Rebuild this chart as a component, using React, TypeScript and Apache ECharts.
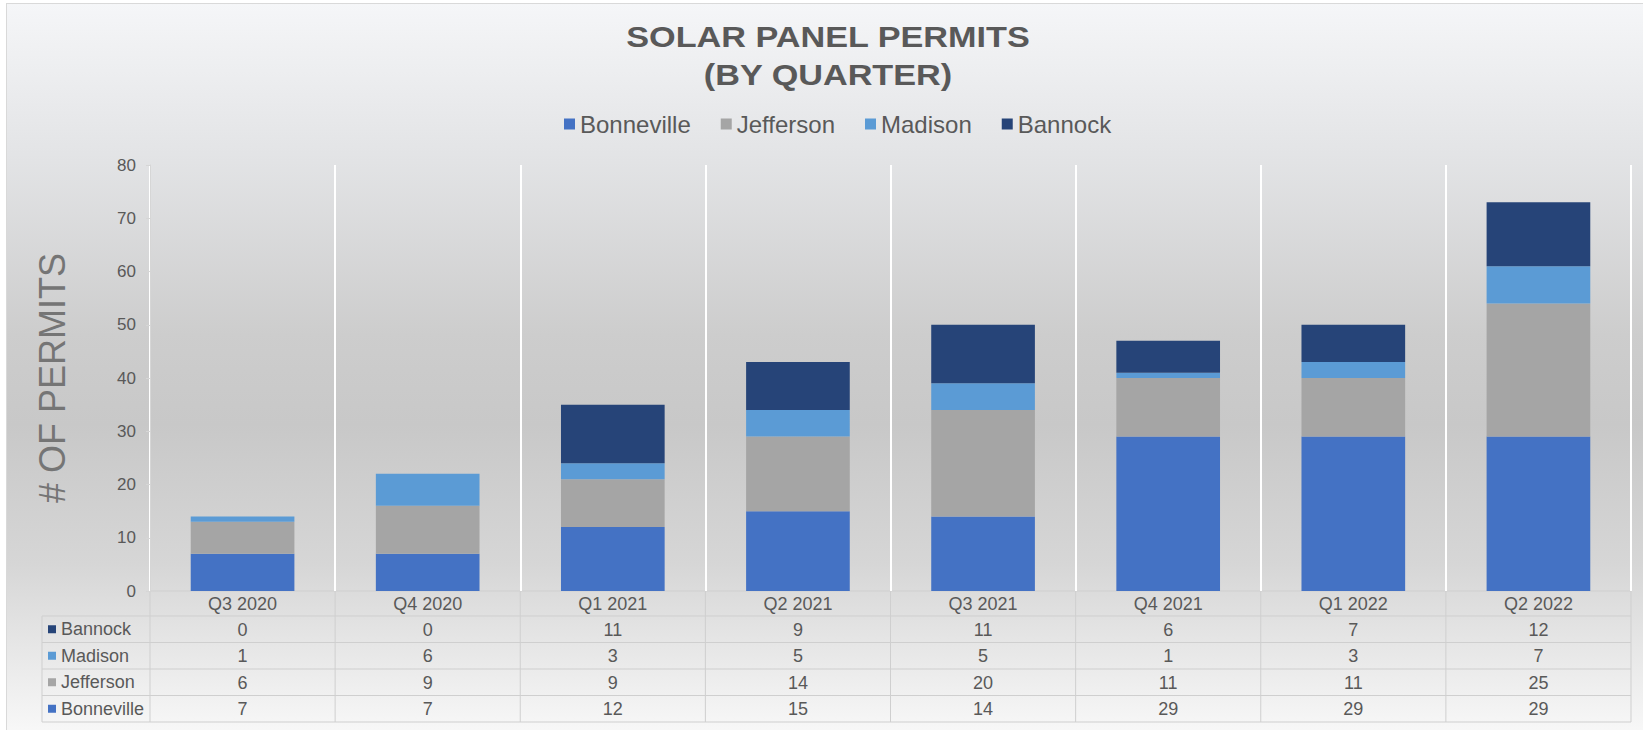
import React, { useEffect, useRef } from "react";
import * as echarts from "echarts";

const quarters = ["Q3 2020", "Q4 2020", "Q1 2021", "Q2 2021", "Q3 2021", "Q4 2021", "Q1 2022", "Q2 2022"];
const bonneville = [7, 7, 12, 15, 14, 29, 29, 29];
const jefferson = [6, 9, 9, 14, 20, 11, 11, 25];
const madison = [1, 6, 3, 5, 5, 1, 3, 7];
const bannock = [0, 0, 11, 9, 11, 6, 7, 12];
const seriesNames = ["Bonneville", "Jefferson", "Madison", "Bannock"];
const seriesColors = ["#4472C4", "#A5A5A5", "#5B9BD5", "#264478"];
const yMin = 0;
const yMax = 80;
const yInterval = 10;

const W = 1643;
const H = 730;
const GRID_LEFT = 150;
const GRID_RIGHT_X = 1631;
const GRID_TOP = 165;
const GRID_BOTTOM_Y = 591;
const HEADER_BOTTOM = 616;
const ROW_H = 26.5;
const TABLE_LEFT = 42;
const TEXT = "#595959";
const LINE = "#cfcfcf";
const FONT = "'Liberation Sans', Arial, sans-serif";
const TABLE_FONT = 18;

export default function App() {
  const ref = useRef<HTMLDivElement>(null);

  useEffect(() => {
    if (!ref.current) return;
    const chart = echarts.init(ref.current, undefined, { renderer: "svg" });

    const seriesData = [bonneville, jefferson, madison, bannock];
    // table rows are listed top-to-bottom in reverse stacking order
    const tableOrder = [3, 2, 1, 0];
    const headerCenter = (GRID_BOTTOM_Y + HEADER_BOTTOM) / 2;
    const labelMargin = 4;

    const xAxes: any[] = [
      {
        type: "category",
        data: quarters,
        gridIndex: 0,
        position: "bottom",
        boundaryGap: true,
        axisLine: { show: false },
        axisTick: { show: false },
        axisLabel: { color: TEXT, fontSize: TABLE_FONT, fontFamily: FONT, margin: labelMargin },
        splitLine: { show: true, lineStyle: { color: "#ffffff", width: 2 } },
      },
    ];
    tableOrder.forEach((si, r) => {
      const rowCenter = HEADER_BOTTOM + ROW_H * (r + 0.5);
      xAxes.push({
        type: "category",
        data: seriesData[si].map((v) => String(v)),
        gridIndex: 0,
        position: "bottom",
        offset: rowCenter - headerCenter,
        boundaryGap: true,
        axisLine: { show: false },
        axisTick: { show: false },
        splitLine: { show: false },
        axisLabel: { color: TEXT, fontSize: TABLE_FONT, fontFamily: FONT, margin: labelMargin, interval: 0 },
      });
    });

    const graphics: any[] = [];
    // title
    graphics.push({
      type: "text",
      x: 828,
      y: 37,
      scaleX: 1.18,
      style: {
        text: "SOLAR PANEL PERMITS",
        fill: TEXT,
        font: `bold 29px ${FONT}`,
        textAlign: "center",
        textVerticalAlign: "middle",
      },
    });
    graphics.push({
      type: "text",
      x: 828,
      y: 75,
      scaleX: 1.18,
      style: {
        text: "(BY QUARTER)",
        fill: TEXT,
        font: `bold 29px ${FONT}`,
        textAlign: "center",
        textVerticalAlign: "middle",
      },
    });

    // data table lines
    const catW = (GRID_RIGHT_X - GRID_LEFT) / quarters.length;
    const tableBottom = HEADER_BOTTOM + ROW_H * tableOrder.length;
    for (let k = 0; k <= quarters.length; k++) {
      const x = GRID_LEFT + k * catW;
      graphics.push({
        type: "line",
        shape: { x1: x, y1: GRID_BOTTOM_Y, x2: x, y2: tableBottom },
        style: { stroke: LINE, lineWidth: 1 },
        silent: true,
      });
    }
    graphics.push({
      type: "line",
      shape: { x1: TABLE_LEFT, y1: HEADER_BOTTOM, x2: TABLE_LEFT, y2: tableBottom },
      style: { stroke: LINE, lineWidth: 1 },
      silent: true,
    });
    graphics.push({
      type: "line",
      shape: { x1: GRID_LEFT, y1: GRID_BOTTOM_Y, x2: GRID_RIGHT_X, y2: GRID_BOTTOM_Y },
      style: { stroke: LINE, lineWidth: 1 },
      silent: true,
    });
    for (let r = 0; r <= tableOrder.length; r++) {
      const y = HEADER_BOTTOM + r * ROW_H;
      graphics.push({
        type: "line",
        shape: { x1: TABLE_LEFT, y1: y, x2: GRID_RIGHT_X, y2: y },
        style: { stroke: LINE, lineWidth: 1 },
        silent: true,
      });
    }
    // row headers with legend keys
    tableOrder.forEach((si, r) => {
      const cy = HEADER_BOTTOM + ROW_H * (r + 0.5);
      graphics.push({
        type: "rect",
        shape: { x: 48, y: cy - 4, width: 8, height: 8 },
        style: { fill: seriesColors[si] },
        silent: true,
      });
      graphics.push({
        type: "text",
        x: 61,
        y: cy,
        style: {
          text: seriesNames[si],
          fill: TEXT,
          font: `${TABLE_FONT}px ${FONT}`,
          textAlign: "left",
          textVerticalAlign: "middle",
        },
        silent: true,
      });
    });

    chart.setOption({
      animation: false,
      backgroundColor: "transparent",
      textStyle: { fontFamily: FONT },
      legend: {
        data: seriesNames,
        left: 559,
        top: 107,
        icon: "rect",
        itemWidth: 11,
        itemHeight: 11,
        itemGap: 30,
        textStyle: { color: TEXT, fontSize: 24, fontFamily: FONT },
      },
      grid: {
        left: GRID_LEFT,
        right: W - GRID_RIGHT_X,
        top: GRID_TOP,
        bottom: H - GRID_BOTTOM_Y,
      },
      xAxis: xAxes,
      yAxis: {
        type: "value",
        min: yMin,
        max: yMax,
        interval: yInterval,
        name: "# OF PERMITS",
        nameLocation: "middle",
        nameGap: 80,
        nameRotate: 90,
        nameTextStyle: { color: "#757575", fontSize: 36, fontFamily: FONT },
        axisLine: { show: true, lineStyle: { color: "#d6d6d6", width: 1 } },
        axisTick: { show: true, length: 4, lineStyle: { color: "#d6d6d6" } },
        axisLabel: { color: TEXT, fontSize: 17, fontFamily: FONT, margin: 14 },
        splitLine: { show: false },
        z: 3,
      },
      series: seriesNames.map((name, i) => ({
        name,
        type: "bar",
        stack: "total",
        xAxisIndex: 0,
        barWidth: "56%",
        data: seriesData[i],
        itemStyle: { color: seriesColors[i] },
      })),
      graphic: graphics,
    });

    return () => chart.dispose();
  }, []);

  return (
    <div
      style={{
        position: "fixed",
        left: 0,
        top: 0,
        width: W,
        height: H,
        background: "#ffffff",
        overflow: "hidden",
      }}
    >
      <div
        style={{
          position: "absolute",
          left: 6,
          top: 3,
          width: 1660,
          height: 760,
          border: "1px solid #d9d9d9",
          background:
            "linear-gradient(180deg, #f5f6f8 0px, #e3e4e6 150px, #cdcdcd 330px, #c8c8c8 420px, #d6d6d6 560px, #e6e6e6 640px, #f8f8f8 730px)",
        }}
      />
      <div ref={ref} style={{ position: "absolute", left: 0, top: 0, width: W, height: H }} />
    </div>
  );
}
